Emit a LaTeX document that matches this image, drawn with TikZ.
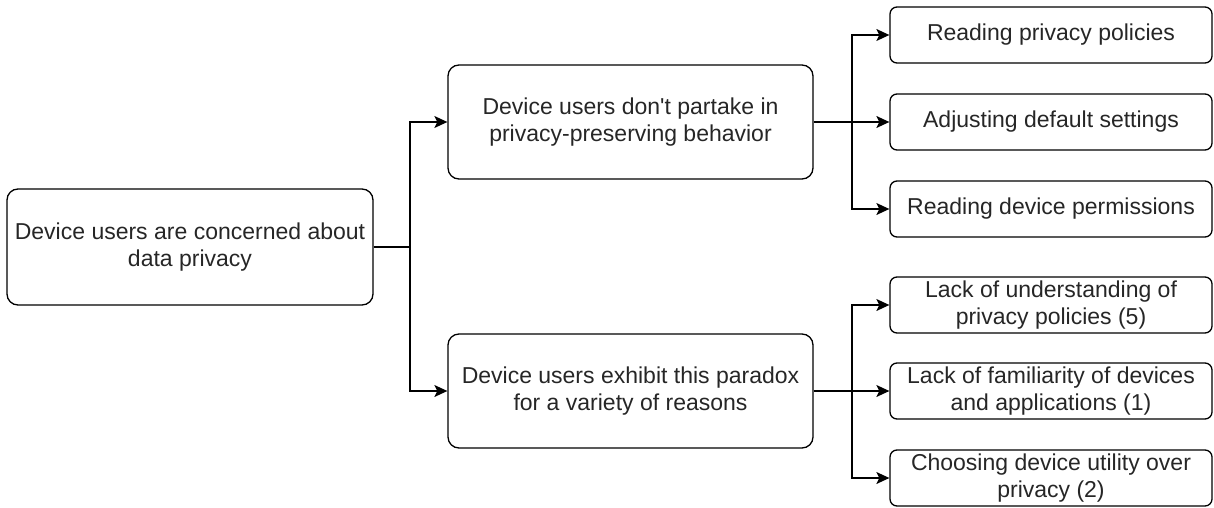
\documentclass[tikz,border=0pt]{standalone}
\usepackage{fontspec}
\setmainfont{Liberation Sans}[Ligatures=TeXOff]
\usetikzlibrary{arrows.meta}
\begin{document}
\begin{tikzpicture}[x=1pt,y=-1pt,
  box/.style={draw=black, line width=1.3pt, rounded corners=#1, align=center, inner sep=0pt,
    font=\fontsize{23}{27}\selectfont, text=black!85},
  box/.default=11pt,
  arr/.style={line width=1.3pt, -{Stealth[length=13pt,width=12pt,inset=3pt]}},
  ln/.style={line width=1.3pt}]
\useasboundingbox (0,0) rectangle (1214,508);
\node[box, minimum width=366pt, minimum height=116pt] (root) at (190,247) {Device users are concerned about\\data privacy};
\node[box, minimum width=365pt, minimum height=114pt] (m1) at (630.5,122) {Device users don't partake in\\privacy-preserving behavior};
\node[box, minimum width=365pt, minimum height=114pt] (m2) at (630.5,391) {Device users exhibit this paradox\\for a variety of reasons};
\node[box=7pt, minimum width=322pt, minimum height=56pt] (r1) at (1051,35) {Reading privacy policies};
\node[box=7pt, minimum width=322pt, minimum height=56pt] (r2) at (1051,122) {Adjusting default settings};
\node[box=7pt, minimum width=322pt, minimum height=56pt] (r3) at (1051,209) {Reading device permissions};
\node[box=7pt, minimum width=322pt, minimum height=56pt] (r4) at (1051,305) {Lack of understanding of\\privacy policies (5)};
\node[box=7pt, minimum width=322pt, minimum height=56pt] (r5) at (1051,391) {Lack of familiarity of devices\\and applications (1)};
\node[box=7pt, minimum width=322pt, minimum height=56pt] (r6) at (1051,478) {Choosing device utility over\\privacy (2)};
\coordinate (j0) at (410,247);
\coordinate (j1) at (852,122);
\coordinate (j2) at (852,391);
\draw[arr] (root.east) -- (j0) |- (m1.west);
\draw[arr] (j0) |- (m2.west);
\draw[arr] (m1.east) -- (r2.west);
\draw[arr] (j1) |- (r1.west);
\draw[arr] (j1) |- (r3.west);
\draw[arr] (m2.east) -- (r5.west);
\draw[arr] (j2) |- (r4.west);
\draw[arr] (j2) |- (r6.west);
\end{tikzpicture}
\end{document}
